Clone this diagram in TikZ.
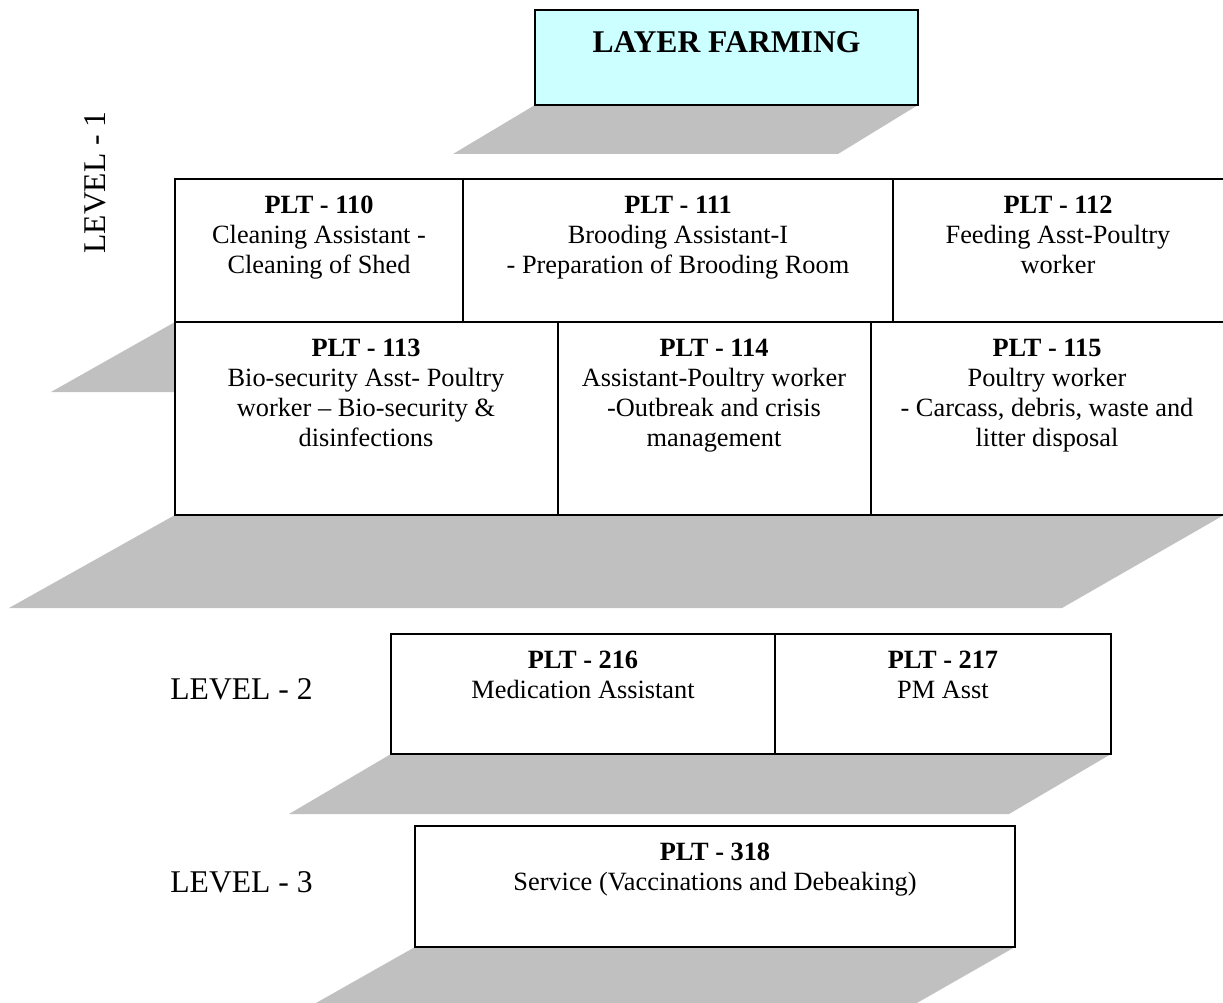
\documentclass[tikz,border=0pt]{standalone}
\usepackage{fontspec}
\setmainfont{Liberation Serif}
\usetikzlibrary{positioning}
\definecolor{shade}{RGB}{192,192,192}
\definecolor{sky}{RGB}{204,255,255}
\tikzstyle{box} = [draw, line width=1pt, fill=white]
\tikzstyle{shadow} = [fill=shade]
\tikzstyle{txt} = [anchor=north, inner sep=0pt, align=center, font=\fontsize{15}{17}\selectfont]
\tikzstyle{lvl} = [anchor=base, inner sep=0pt, font=\fontsize{18}{21}\selectfont]

\begin{document}
\begin{tikzpicture}[x=0.02cm, y=-0.02cm]
  \useasboundingbox (0,0) rectangle (1223,1003);
  % title
  \fill[shadow] (535,105) -- (918,105) -- (838,154) -- (453,154) -- cycle;
  \draw[box, fill=sky] (535,10) rectangle (918,105);
  \node[txt, font=\fontsize{18}{21}\selectfont\bfseries] (title) at (726.5,31) {LAYER FARMING};
  % level 1
  \fill[shadow] (175,322) -- (1224,322) -- (1100,392) -- (51,392) -- cycle;
  \fill[shadow] (175,515) -- (1224,515) -- (1062,608) -- (9,608) -- cycle;
  \draw[box] (175,179) rectangle (463,322);
  \draw[box] (463,179) rectangle (893,322);
  \draw[box] (893,179) rectangle (1226,322);
  \draw[box] (175,322) rectangle (558,515);
  \draw[box] (558,322) rectangle (871,515);
  \draw[box] (871,322) rectangle (1226,515);
  \node[txt] (p110) at (319,196) {\textbf{PLT - 110}\\Cleaning Assistant -\\Cleaning of Shed};
  \node[txt] (p111) at (678,196) {\textbf{PLT - 111}\\Brooding Assistant-I\\- Preparation of Brooding Room};
  \node[txt] (p112) at (1058,196) {\textbf{PLT - 112}\\Feeding Asst-Poultry\\worker};
  \node[txt] (p113) at (366,339) {\textbf{PLT - 113}\\Bio-security Asst- Poultry\\worker – Bio-security \&\\disinfections};
  \node[txt] (p114) at (714,339) {\textbf{PLT - 114}\\Assistant-Poultry worker\\-Outbreak and crisis\\management};
  \node[txt] (p115) at (1047,339) {\textbf{PLT - 115}\\Poultry worker\\- Carcass, debris, waste and\\litter disposal};
  \node[lvl, rotate=90] (lvl1) at (105,182.5) {LEVEL - 1};
  % level 2
  \fill[shadow] (391,754) -- (1111,754) -- (1009,814) -- (289,814) -- cycle;
  \draw[box] (391,634) rectangle (775,754);
  \draw[box] (775,634) rectangle (1111,754);
  \node[txt] (p216) at (583,651) {\textbf{PLT - 216}\\Medication Assistant};
  \node[txt] (p217) at (943,651) {\textbf{PLT - 217}\\PM Asst};
  \node[lvl] (lvl2) at (241.5,699) {LEVEL - 2};
  % level 3
  \fill[shadow] (415,947) -- (1015,947) -- (917,1003) -- (316,1003) -- cycle;
  \draw[box] (415,826) rectangle (1015,947);
  \node[txt] (p318) at (715,843) {\textbf{PLT - 318}\\Service (Vaccinations and Debeaking)};
  \node[lvl] (lvl3) at (241.5,892) {LEVEL - 3};
\end{tikzpicture}
\end{document}
